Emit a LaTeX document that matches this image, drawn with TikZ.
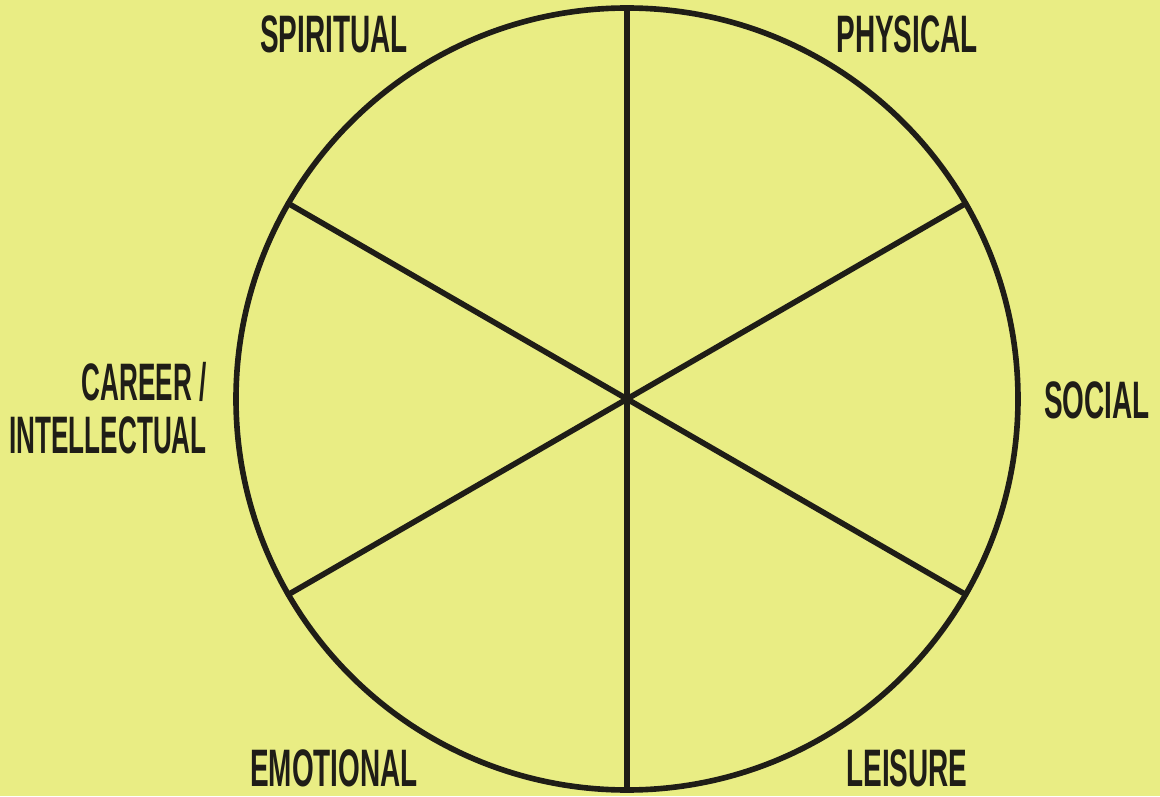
\documentclass[tikz,border=0pt]{standalone}
\usepackage{fontspec}
\usepackage{tikz}
\usetikzlibrary{positioning,calc}
\usepackage{xcolor}
\definecolor{wheelBg}{HTML}{E9ED84}
\definecolor{wheelInk}{HTML}{1F1D17}
\newfontfamily\wheelfont{Liberation Sans}[FakeStretch=0.53]
\newfontfamily\wheelnarrow{Liberation Sans}[FakeStretch=0.495]
\tikzset{
    % label and rim styles
    area/.style={font=\wheelfont\bfseries\fontsize{30}{30}\selectfont,text=wheelInk,inner sep=0pt,align=center},
    areanarrow/.style={area,font=\wheelnarrow\bfseries\fontsize{30}{30}\selectfont},
    rim/.style={draw=wheelInk,line width=3.2pt},
    spoke/.style={draw=wheelInk,line width=3.2pt,line cap=round}
}

\begin{document}
\begin{tikzpicture}
  % background, fixes the page size
  \fill[wheelBg] (0,0) rectangle (23.2,15.92);
  \useasboundingbox (0,0) rectangle (23.2,15.92);

  % the wheel
  \coordinate (hub) at (12.54,7.94);
  \draw[rim] (hub) circle (7.82);
  \coordinate (rimN) at ($(hub)+(90:7.82)$);
  \coordinate (rimNE) at ($(hub)+(30:7.82)$);
  \coordinate (rimSE) at ($(hub)+(-30:7.82)$);
  \coordinate (rimS) at ($(hub)+(-90:7.82)$);
  \coordinate (rimSW) at ($(hub)+(210:7.82)$);
  \coordinate (rimNW) at ($(hub)+(150:7.82)$);
  \draw[spoke] (rimN) -- (rimS);
  \draw[spoke] (rimNE) -- (rimSW);
  \draw[spoke] (rimNW) -- (rimSE);

  % area labels
  \node[area] (spiritual) at (6.68,15.24) {SPIRITUAL};
  \node[area] (physical) at (18.14,15.24) {PHYSICAL};
  \node[area] (social) at (21.94,7.92) {SOCIAL};
  \node[areanarrow,align=right,anchor=east] (career) at (4.14,7.76) {CAREER /\\INTELLECTUAL};
  \node[area] (emotional) at (6.68,0.56) {EMOTIONAL};
  \node[area] (leisure) at (18.14,0.56) {LEISURE};
\end{tikzpicture}
\end{document}
